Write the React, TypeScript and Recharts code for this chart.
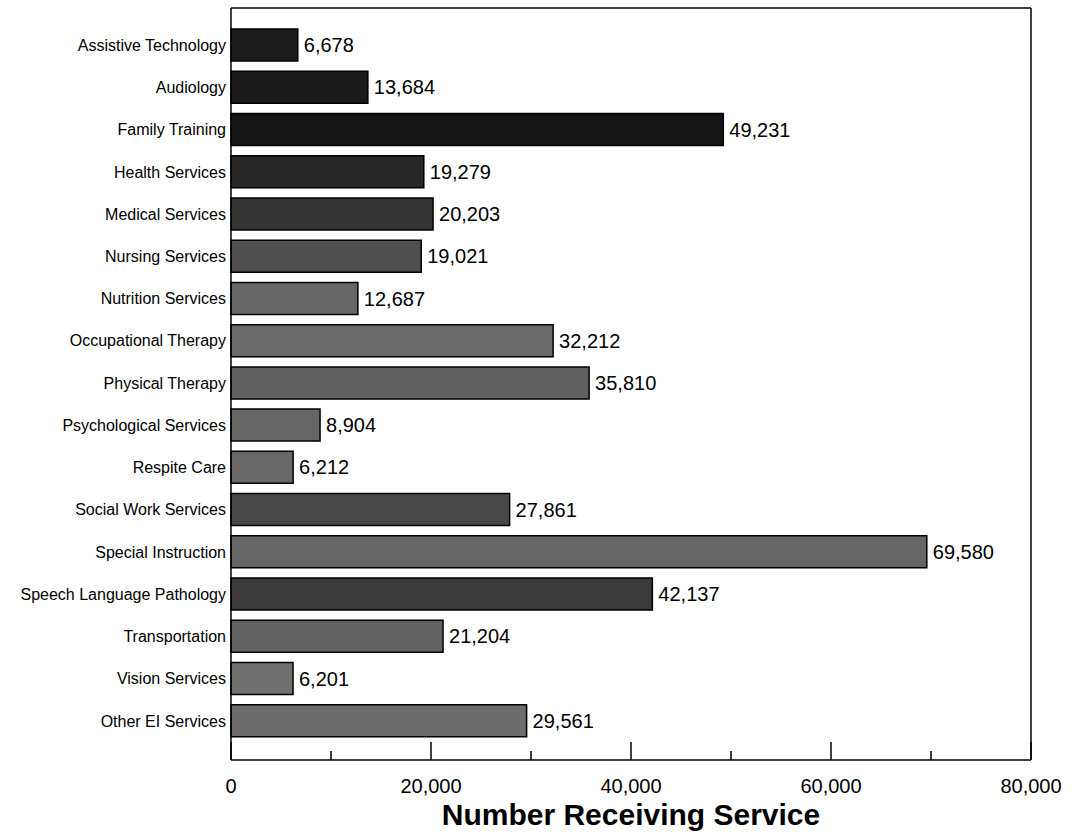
import React from "react";
import { BarChart, Bar, XAxis, YAxis, Cell, LabelList } from "recharts";

// Categories and counts
const services = [
  "Assistive Technology",
  "Audiology",
  "Family Training",
  "Health Services",
  "Medical Services",
  "Nursing Services",
  "Nutrition Services",
  "Occupational Therapy",
  "Physical Therapy",
  "Psychological Services",
  "Respite Care",
  "Social Work Services",
  "Special Instruction",
  "Speech Language Pathology",
  "Transportation",
  "Vision Services",
  "Other EI Services",
];

const counts = [
  6678, 13684, 49231, 19279, 20203, 19021, 12687, 32212, 35810, 8904, 6212,
  27861, 69580, 42137, 21204, 6201, 29561,
];

const xTicks = [0, 10000, 20000, 30000, 40000, 50000, 60000, 70000, 80000];

// bar shades (the scan shows halftone greys, darker at the top)
const shades = [
  "#1c1c1c", "#1a1a1a", "#151515", "#262626", "#333333", "#4f4f4f",
  "#666666", "#6a6a6a", "#606060", "#666666", "#676767", "#474747",
  "#666666", "#3a3a3a", "#626262", "#707070", "#6c6c6c",
];

const data = services.map((name, i) => ({ name, value: counts[i] }));

const FONT = "'Liberation Sans', Arial, Helvetica, sans-serif";
const frame = { stroke: "#000", strokeWidth: 1.5 };

const fmt = (v: any) => Number(v).toLocaleString("en-US");

// bottom axis tick: short inward mark, label only every 20,000
const XTick = (props: any) => {
  const { x, y, payload } = props;
  const major = payload.value % 20000 === 0;
  return (
    <g>
      <line
        x1={x}
        x2={x}
        y1={y}
        y2={y - (major ? 18 : 9)}
        stroke="#000"
        strokeWidth={1.5}
      />
      {major && (
        <text
          x={x}
          y={y + 26}
          textAnchor="middle"
          dominantBaseline="central"
          fontSize={20}
          fontFamily={FONT}
          fill="#000"
        >
          {fmt(payload.value)}
        </text>
      )}
    </g>
  );
};

export default function App() {
  return (
    <div style={{ position: "absolute", left: 0, top: 0, background: "#fff" }}>
      <BarChart
        width={1079}
        height={832}
        data={data}
        layout="vertical"
        margin={{ top: 7, right: 47, bottom: 42, left: 0 }}
        barSize={32}
      >
        <XAxis
          type="number"
          domain={[0, 80000]}
          ticks={xTicks}
          tick={<XTick />}
          tickLine={false}
          tickSize={0}
          tickMargin={0}
          axisLine={frame}
          height={30}
          interval={0}
          label={{
            value: "Number Receiving Service",
            position: "bottom",
            offset: 14,
            style: {
              fontSize: 30,
              fontWeight: "bold",
              fontFamily: FONT,
              fill: "#000",
            },
          }}
        />
        <XAxis
          xAxisId="top"
          orientation="top"
          type="number"
          domain={[0, 80000]}
          height={1}
          tick={false}
          tickLine={false}
          axisLine={frame}
        />
        <YAxis
          type="category"
          dataKey="name"
          width={231}
          axisLine={frame}
          tickLine={false}
          tickSize={0}
          tickMargin={5}
          interval={0}
          padding={{ top: 16, bottom: 18 }}
          tick={{ fontSize: 16, fill: "#000", fontFamily: FONT }}
        />
        <YAxis
          yAxisId="right"
          orientation="right"
          type="category"
          dataKey="name"
          width={1}
          tick={false}
          tickLine={false}
          axisLine={frame}
        />
        <Bar
          dataKey="value"
          stroke="#000"
          strokeWidth={1.5}
          isAnimationActive={false}
        >
          {data.map((d, i) => (
            <Cell key={d.name} fill={shades[i]} />
          ))}
          <LabelList
            dataKey="value"
            position="right"
            offset={6}
            formatter={fmt}
            style={{ fontSize: 20, fill: "#000", fontFamily: FONT }}
          />
        </Bar>
      </BarChart>
    </div>
  );
}
